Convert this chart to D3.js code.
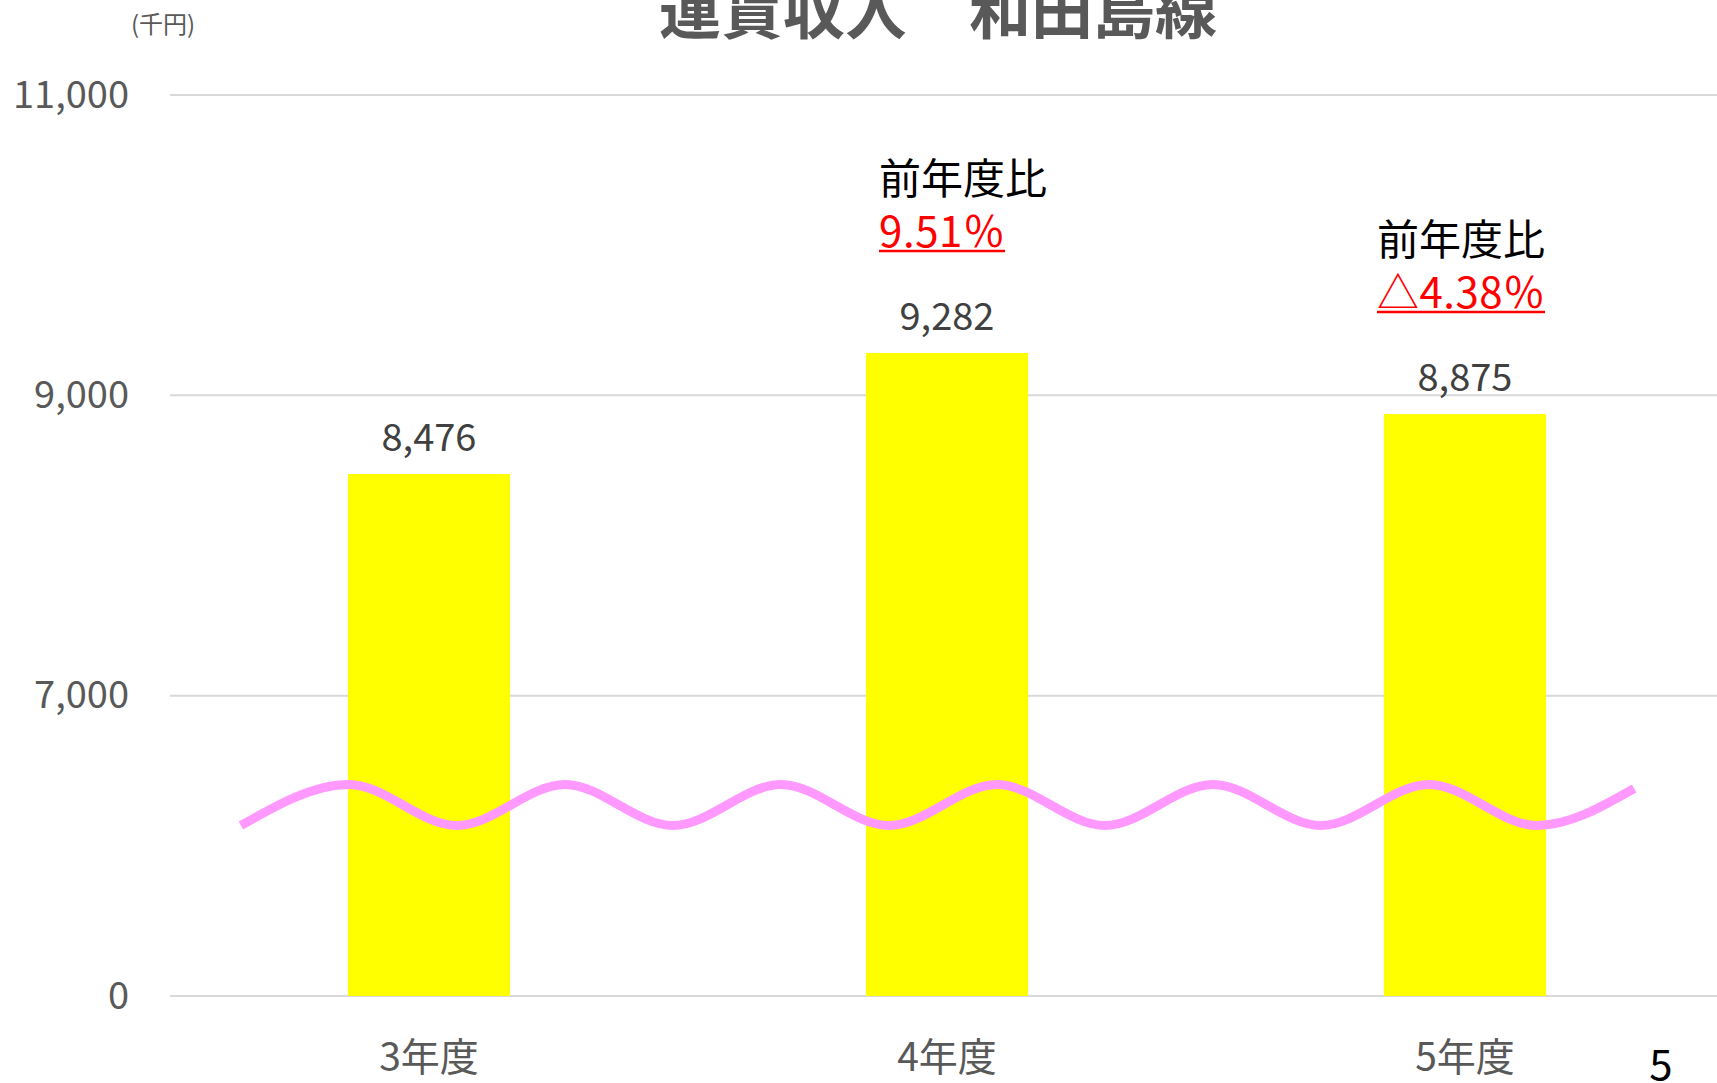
<!DOCTYPE html>
<html>
<head>
<meta charset="utf-8">
<script src="https://cdn.jsdelivr.net/npm/d3@7"></script>
<style>
  html, body { margin: 0; padding: 0; background: #fff; overflow: hidden; }
  svg { display: block; font-family: "Noto Sans CJK JP", "Noto Sans", sans-serif; }
</style>
</head>
<body>
<div id="chart"></div>
<script>
// données du graphique
const titleText = "運賃収入　和田島線";
const unitText = "(千円)";
const categories = ["3年度", "4年度", "5年度"];
const values = [8476, 9282, 8875];
const tickValues = [5000, 7000, 9000, 11000];
const tickLabels = ["0", "7,000", "9,000", "11,000"];   // axe coupé : 5000 affiché comme 0
const annoCats = ["4年度", "5年度"];
const annoHead = ["前年度比", "前年度比"];
const annoPct = ["9.51％", "△4.38％"];
const pageNo = "5";

const W = 1717, H = 1083;
const margin = { top: 95, right: -7, bottom: 87, left: 170 };

const svg = d3.select("#chart").append("svg").attr("width", W).attr("height", H);

const x = d3.scaleBand()
    .domain(categories)
    .range([margin.left, W - margin.right])
    .paddingInner(0.687).paddingOuter(0.3435);

const y = d3.scaleLinear()
    .domain([5000, 11000])
    .range([H - margin.bottom, margin.top]);

// grille horizontale
svg.append("g")
    .selectAll("line")
    .data(tickValues)
    .join("line")
    .attr("x1", margin.left)
    .attr("x2", W)
    .attr("y1", d => y(d))
    .attr("y2", d => y(d))
    .attr("stroke", "#d9d9d9")
    .attr("stroke-width", 2);

// axe Y (étiquettes seulement)
const yAxis = svg.append("g")
    .attr("transform", `translate(${margin.left},0)`)
    .call(d3.axisLeft(y).tickValues(tickValues).tickFormat((d, i) => tickLabels[i]).tickSize(0).tickPadding(41));
yAxis.select(".domain").remove();
yAxis.selectAll("text")
    .attr("font-family", "'Noto Sans CJK JP', sans-serif")
    .attr("font-size", 38)
    .attr("fill", "#595959");

// barres
svg.append("g")
    .selectAll("rect")
    .data(values)
    .join("rect")
    .attr("x", (d, i) => x(categories[i]))
    .attr("y", d => y(d))
    .attr("width", x.bandwidth())
    .attr("height", d => y(5000) - y(d))
    .attr("fill", "#ffff00");

// étiquettes de valeurs
svg.append("g")
    .selectAll("text")
    .data(values)
    .join("text")
    .attr("x", (d, i) => x(categories[i]) + x.bandwidth() / 2)
    .attr("y", d => y(d) - 23)
    .attr("text-anchor", "middle")
    .attr("font-size", 38)
    .attr("fill", "#404040")
    .text(d => d3.format(",")(d));

// axe X (étiquettes)
svg.append("g")
    .selectAll("text")
    .data(categories)
    .join("text")
    .attr("x", d => x(d) + x.bandwidth() / 2)
    .attr("y", H - 12)
    .attr("text-anchor", "middle")
    .attr("font-size", 39)
    .attr("fill", "#595959")
    .text(d => d);

// ligne ondulée (coupure de l'axe)
const waveStart = x(categories[0]) - 107;
const halfPeriod = 108;
const waveMid = y(5000) - 191, waveAmp = 20.5;
const wavePts = d3.range(0, 14).map(k => [waveStart + k * halfPeriod, waveMid + (k % 2 === 0 ? waveAmp : -waveAmp)]);
wavePts[13] = [waveStart + 12.9 * halfPeriod, waveMid - waveAmp + 4];
svg.append("path")
    .attr("d", d3.line().curve(d3.curveMonotoneX)(wavePts))
    .attr("fill", "none")
    .attr("stroke", "#ff99ff")
    .attr("stroke-width", 9);

// titre
svg.append("text")
    .attr("x", 938)
    .attr("y", 34)
    .attr("text-anchor", "middle")
    .attr("font-size", 62)
    .attr("font-weight", "bold")
    .attr("fill", "#595959")
    .text(titleText);

svg.append("text")
    .attr("x", 163)
    .attr("y", 33)
    .attr("text-anchor", "middle")
    .attr("font-size", 24)
    .attr("fill", "#595959")
    .text(unitText);

// annotations "前年度比"
const annoDx = [-68, -88];
const emWidth = s => Array.from(s).reduce((a, c) => a + (c.charCodeAt(0) < 256 ? 0.5 : 1), 0);
annoCats.forEach((c, i) => {
    const v = values[categories.indexOf(c)];
    const x0 = x(c) + x.bandwidth() / 2 + annoDx[i];
    const g = svg.append("g");
    g.append("text")
        .attr("x", x0)
        .attr("y", y(v) - 159)
        .attr("font-size", 42)
        .attr("fill", "#000")
        .text(annoHead[i]);
    const w = emWidth(annoPct[i]) * 42;
    g.append("text")
        .attr("x", x0)
        .attr("y", y(v) - 106)
        .attr("font-size", 42)
        .attr("fill", "#ff0000")
        .attr("textLength", w)
        .attr("lengthAdjust", "spacing")
        .text(annoPct[i]);
    g.append("line")
        .attr("x1", x0).attr("x2", x0 + w)
        .attr("y1", y(v) - 102).attr("y2", y(v) - 102)
        .attr("stroke", "#ff0000")
        .attr("stroke-width", 2.5);
});

// numéro de page
svg.append("text")
    .attr("x", 1661)
    .attr("y", 1080)
    .attr("text-anchor", "middle")
    .attr("font-size", 42)
    .attr("fill", "#000")
    .text(pageNo);
</script>
</body>
</html>
